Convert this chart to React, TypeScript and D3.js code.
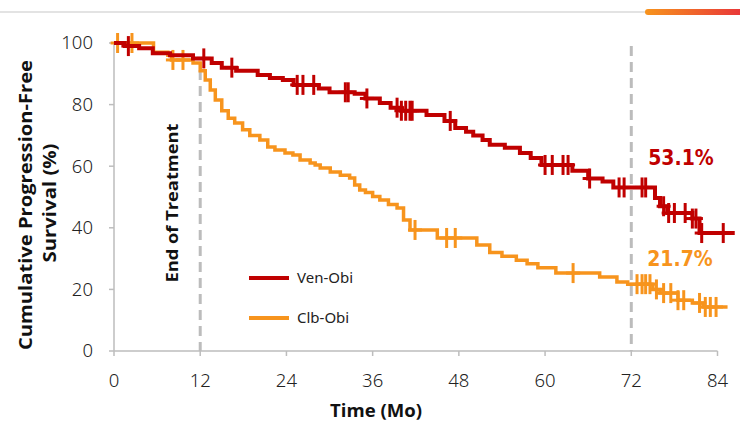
import React from "react";
import * as d3 from "d3";

// ---- data ----
const xTicks = [0, 12, 24, 36, 48, 60, 72, 84];
const yTicks = [0, 20, 40, 60, 80, 100];

// Ven-Obi KM steps: [time, survival]
const venTimes = [0, 1.5, 3.5, 5.4, 7.8, 11, 13.6, 15, 17, 20, 21.7, 23.5, 25, 28.5, 30, 33.5, 35, 37, 38.5, 40, 43.5, 46, 47.5, 49, 50, 51.3, 52.3, 54.4, 56.5, 58, 59.5, 63.8, 66, 68, 69.5, 75.3, 76, 77, 80.5, 81.5, 86.4];
const venSurv = [100, 99, 98.3, 96.7, 96, 95, 93.5, 92, 91, 89.6, 88.6, 88, 86.4, 85.2, 84, 83.5, 82, 80.5, 79, 78, 76.6, 74.7, 72.4, 71.2, 70, 68.5, 67, 66, 64.3, 62.7, 60.4, 58.5, 56, 55, 53.1, 49.7, 47, 44.8, 43, 38.3, 38.3];
const venCensor = [2, 12.5, 16.4, 25.5, 26.3, 27.8, 32.2, 32.6, 35.2, 39.4, 40, 40.6, 41.2, 41.5, 46.8, 60, 61, 62.5, 63.2, 66.2, 70.3, 71, 73.5, 74, 76.5, 77.2, 78, 79.5, 80.5, 81, 81.8, 84.8];

// Clb-Obi KM steps
const clbTimes = [0, 5.5, 7.5, 8, 11, 12, 12.7, 13.4, 14.1, 15, 15.9, 16.8, 17.9, 18.9, 20.3, 21.4, 22.4, 23.8, 24.9, 25.9, 27.3, 28, 28.7, 30.1, 31.5, 32.8, 33.5, 34.2, 35, 36, 37, 38.2, 39.4, 40.3, 41.2, 45, 50.5, 52.3, 54, 56, 57.5, 59, 61.5, 67.6, 70, 71.5, 75, 76, 78.5, 80.5, 82, 85.4];
const clbSurv = [100, 97, 96, 94.5, 93.5, 91, 88, 84.7, 81.5, 78, 75.6, 74, 71.8, 70, 68.5, 66.2, 65.3, 64.3, 63.6, 62, 61, 60.4, 59.4, 58.1, 57.1, 56.2, 53.9, 52.3, 51.5, 50.2, 49, 47.6, 46.4, 42.5, 39.3, 36.7, 34.4, 32, 30.8, 29.5, 28.3, 27, 25.3, 24, 22.4, 21.7, 20, 18.8, 16.5, 15.6, 14.3, 14.3];
const clbCensor = [0.5, 2.5, 8.2, 9.6, 41.9, 46.3, 47.5, 63.9, 72.8, 73.5, 74, 74.6, 75.5, 76.5, 77.5, 78.5, 79.3, 81.5, 82.3, 83, 83.8];

const seriesNames = ["Ven-Obi", "Clb-Obi"];
const seriesColors = ["#c00000", "#f7941d"];
const endLabels = ["53.1%", "21.7%"];

const W = 740, H = 423;
const x = d3.scaleLinear().domain([0, 84]).range([114, 717.5]);
const y = d3.scaleLinear().domain([0, 100]).range([351, 43]);

function survAt(times: number[], surv: number[], t: number) {
  let v = surv[0];
  for (let i = 0; i < times.length; i++) if (times[i] <= t) v = surv[i];
  return v;
}

function Curve({ times, surv, censor, color, width }: any) {
  const pts: [number, number][] = times.map((t: number, i: number) => [t, surv[i]]);
  const line = d3.line<[number, number]>().x(d => x(d[0])).y(d => y(d[1])).curve(d3.curveStepAfter);
  return (
    <g>
      <path d={line(pts) || ""} fill="none" stroke={color} strokeWidth={width} />
      {censor.map((t: number, i: number) => {
        const cx = x(t), cy = y(survAt(times, surv, t));
        return (
          <g key={i} stroke={color} strokeWidth={3}>
            <line x1={cx - 7} x2={cx + 7} y1={cy} y2={cy} />
            <line x1={cx} x2={cx} y1={cy - 10} y2={cy + 10} />
          </g>
        );
      })}
    </g>
  );
}

export default function App() {
  const font = "'Noto Sans', sans-serif";
  const boldFont = "'Open Sans', 'Noto Sans', sans-serif";
  return (
    <svg width={W} height={H} style={{ position: "absolute", left: 0, top: 0, background: "#fff" }}>
      <defs>
        <linearGradient id="topbar" x1="0" x2="1" y1="0" y2="0">
          <stop offset="0" stopColor="#f7941d" />
          <stop offset="1" stopColor="#e8333a" />
        </linearGradient>
      </defs>
      <line x1={0} x2={W} y1={12} y2={12} stroke="#e3e3e3" strokeWidth={2} />
      <rect x={645} y={9} width={100} height={6} rx={3} fill="url(#topbar)" />

      {/* axes */}
      <line x1={114} x2={114} y1={y(100)} y2={y(0)} stroke="#bdbdbd" strokeWidth={1.5} />
      <line x1={114} x2={x(84)} y1={y(0)} y2={y(0)} stroke="#bdbdbd" strokeWidth={1.5} />
      {yTicks.map(t => (
        <g key={t}>
          <line x1={109} x2={114} y1={y(t)} y2={y(t)} stroke="#bdbdbd" strokeWidth={1.5} />
          <text x={93} y={y(t)} dy="0.35em" textAnchor="end" fontFamily={font} fontWeight={300} fontSize={18.5} fill="#222">{t}</text>
        </g>
      ))}
      {xTicks.map(t => (
        <g key={t}>
          <line x1={x(t)} x2={x(t)} y1={y(0)} y2={y(0) + 5} stroke="#bdbdbd" strokeWidth={1.5} />
          <text x={x(t)} y={387} textAnchor="middle" fontFamily={font} fontWeight={300} fontSize={18.5} fill="#222">{t}</text>
        </g>
      ))}

      {/* dashed reference lines */}
      <line x1={x(12)} x2={x(12)} y1={70} y2={y(0)} stroke="#bcbcbc" strokeWidth={3} strokeDasharray="10,6" />
      <line x1={x(72)} x2={x(72)} y1={46} y2={y(0)} stroke="#bcbcbc" strokeWidth={3} strokeDasharray="10,6" />

      <Curve times={clbTimes} surv={clbSurv} censor={clbCensor} color={seriesColors[1]} width={3.5} />
      <Curve times={venTimes} surv={venSurv} censor={venCensor} color={seriesColors[0]} width={4} />

      {/* titles */}
      <text transform="translate(32,205) rotate(-90)" textAnchor="middle" fontFamily={boldFont} fontWeight="bold" fontSize={17} fill="#111" textLength={290} lengthAdjust="spacingAndGlyphs">Cumulative Progression-Free</text>
      <text transform="translate(56,203) rotate(-90)" textAnchor="middle" fontFamily={boldFont} fontWeight="bold" fontSize={17} fill="#111" textLength={119} lengthAdjust="spacingAndGlyphs">Survival (%)</text>
      <text x={376} y={417} textAnchor="middle" fontFamily={boldFont} fontWeight="bold" fontSize={17} fill="#111" textLength={92} lengthAdjust="spacingAndGlyphs">Time (Mo)</text>
      <text transform="translate(178,203) rotate(-90)" textAnchor="middle" fontFamily={boldFont} fontWeight="bold" fontSize={16.5} fill="#111" textLength={159} lengthAdjust="spacingAndGlyphs">End of Treatment</text>

      {/* legend */}
      {seriesNames.map((n, i) => (
        <g key={n}>
          <line x1={249} x2={289} y1={278 + i * 40} y2={278 + i * 40} stroke={seriesColors[i]} strokeWidth={4} />
          <text x={297} y={278 + i * 40} dy="0.35em" fontFamily={font} fontSize={15} fill="#222">{n}</text>
        </g>
      ))}

      {/* end labels */}
      <text x={681} y={158} dy="0.35em" textAnchor="middle" fontFamily="'DejaVu Sans Condensed', sans-serif" fontWeight="bold" fontSize={21} fill={seriesColors[0]}>{endLabels[0]}</text>
      <text x={680} y={259} dy="0.35em" textAnchor="middle" fontFamily="'DejaVu Sans Condensed', sans-serif" fontWeight="bold" fontSize={21} fill={seriesColors[1]}>{endLabels[1]}</text>
    </svg>
  );
}
